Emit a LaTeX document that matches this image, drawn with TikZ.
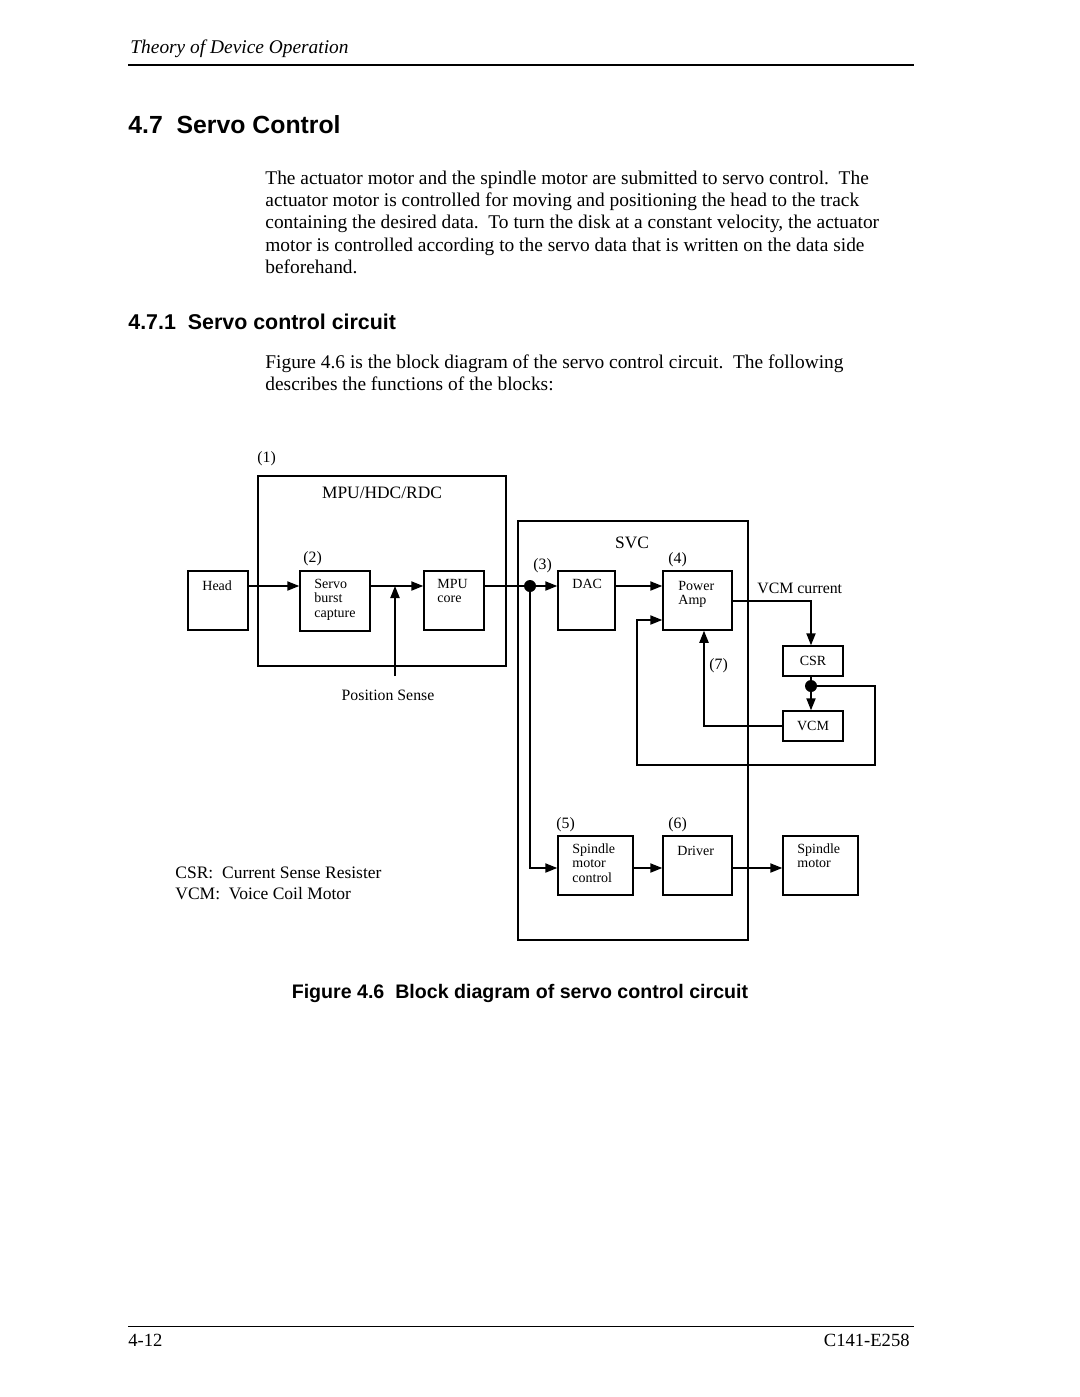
\documentclass[tikz,border=0pt]{standalone}
\usepackage{fontspec}
\setmainfont{Liberation Serif}
\newfontfamily\hsans{Liberation Sans}
\usetikzlibrary{arrows.meta}
\newcommand{\fsz}[1]{\fontsize{#1}{#1}\selectfont}
\begin{document}
\begin{tikzpicture}[x=0.5pt,y=-0.5pt,
  box/.style={draw,line width=0.75pt,inner sep=0pt},
  arr/.style={line width=0.75pt,-{Triangle[length=6pt,width=4.6pt]}},
  ln/.style={line width=0.75pt},
  dot/.style={circle,fill,inner sep=0pt,minimum size=6pt},
  body/.style={anchor=base west,inner sep=0pt,font=\fsz{9.7}},
  lab/.style={anchor=base west,inner sep=0pt,font=\fsz{7.9}},
  labc/.style={anchor=base,inner sep=0pt,font=\fsz{7.9}},
  sm/.style={anchor=base west,inner sep=0pt,font=\fsz{7}},
  smc/.style={anchor=center,inner sep=0pt,font=\fsz{7}},
  head/.style={anchor=base west,inner sep=0pt}]
\useasboundingbox[fill=white] (0,0) rectangle (1080,1397);
% page header
\node[head,font=\fsz{9.7}\itshape] (hdr) at (130,53) {Theory of Device Operation};
\coordinate (rl) at (128,65); \coordinate (rr) at (914,65);
\draw[line width=1pt] (rl) -- (rr);
\node[head,font=\hsans\bfseries\fsz{12.4}] (h1) at (128,133) {4.7\ \ Servo Control};
\node[body] (p1) at (265,184) {The actuator motor and the spindle motor are submitted to servo control.\ \ The};
\node[body] (p2) at (265,206) {actuator motor is controlled for moving and positioning the head to the track};
\node[body] (p3) at (265,228.5) {containing the desired data.\ \ To turn the disk at a constant velocity, the actuator};
\node[body] (p4) at (265,251) {motor is controlled according to the servo data that is written on the data side};
\node[body] (p5) at (265,273) {beforehand.};
\node[head,font=\hsans\bfseries\fsz{10.7}] (h2) at (128,329) {4.7.1\ \ Servo control circuit};
\node[body] (q1) at (265,368) {Figure 4.6 is the block diagram of the servo control circuit.\ \ The following};
\node[body] (q2) at (265,390) {describes the functions of the blocks:};
% boxes
\node[box,minimum width=124pt,minimum height=95pt] (mpu) at (382,571) {};
\node[box,minimum width=30pt,minimum height=29.5pt] (hd) at (218,600.5) {};
\node[box,minimum width=35pt,minimum height=30pt] (sbc) at (335,601) {};
\node[box,minimum width=30pt,minimum height=29.5pt] (core) at (454,600.5) {};
\node[box,minimum width=115pt,minimum height=209.5pt] (svc) at (633,730.5) {};
\node[box,minimum width=28.5pt,minimum height=29.5pt] (dac) at (586.5,600.5) {};
\node[box,minimum width=34.5pt,minimum height=29.5pt] (pamp) at (697.5,600.5) {};
\node[box,minimum width=30pt,minimum height=15pt] (csr) at (813,661) {};
\node[box,minimum width=30pt,minimum height=15pt] (vcm) at (813,726) {};
\node[box,minimum width=37.5pt,minimum height=29.5pt] (smctl) at (595.5,865.5) {};
\node[box,minimum width=34.5pt,minimum height=29.5pt] (drv) at (697.5,865.5) {};
\node[box,minimum width=37.5pt,minimum height=29.5pt] (spm) at (820.5,865.5) {};
% box texts
\node[sm] (t1) at (202,590) {Head};
\node[sm] (t2) at (314,588) {Servo};
\node[sm] (t3) at (314,602.5) {burst};
\node[sm] (t4) at (314,617) {capture};
\node[sm] (t5) at (437,588) {MPU};
\node[sm] (t6) at (437,602.5) {core};
\node[sm] (t7) at (572,588) {DAC};
\node[sm] (t8) at (678,590) {Power};
\node[sm] (t9) at (678,604.5) {Amp};
\node[smc] (t10) at (csr) {CSR};
\node[smc] (t11) at (vcm) {VCM};
\node[sm] (t12) at (572,853) {Spindle};
\node[sm] (t13) at (572,867.5) {motor};
\node[sm] (t14) at (572,882) {control};
\node[sm] (t15) at (677,855) {Driver};
\node[sm] (t16) at (797,853) {Spindle};
\node[sm] (t17) at (797,867.5) {motor};
% labels
\node[lab] (l1) at (257,462) {(1)};
\node[anchor=base,inner sep=0pt,font=\fsz{8.7}] (l2) at (382,498) {MPU/HDC/RDC};
\node[lab] (l3) at (303,562) {(2)};
\node[labc] (l4) at (388,700) {Position Sense};
\node[anchor=base,inner sep=0pt,font=\fsz{8.7}] (l5) at (632,548) {SVC};
\node[lab] (l6) at (533,569) {(3)};
\node[lab] (l7) at (668,563) {(4)};
\node[lab] (l8) at (757,593) {VCM current};
\node[lab] (l9) at (709,669) {(7)};
\node[lab] (l10) at (556,828) {(5)};
\node[lab] (l11) at (668,828) {(6)};
\node[anchor=base west,inner sep=0pt,font=\fsz{8.75}] (n1) at (175,878) {CSR:\ \ Current Sense Resister};
\node[anchor=base west,inner sep=0pt,font=\fsz{8.75}] (n2) at (175,899) {VCM:\ \ Voice Coil Motor};
% junctions and helper coordinates
\node[dot] (j1) at (530,586) {};
\node[dot] (j2) at (811,686) {};
\coordinate (yA) at (0,586);
\coordinate (yB) at (0,601);
\coordinate (yC) at (0,620);
\coordinate (yD) at (0,868);
\coordinate (xC) at (811,0);
\coordinate (ps) at (395,676);
\coordinate (c1) at (875,765);
\coordinate (c2) at (637,765);
% connectors
\draw[arr] (hd.east|-yA) -- (sbc.west|-yA);
\draw[arr] (sbc.east|-yA) -- (core.west|-yA);
\draw[arr] (ps) -- (ps|-yA);
\draw[ln] (core.east|-yA) -- (j1);
\draw[arr] (j1) -- (dac.west|-yA);
\draw[arr] (dac.east|-yA) -- (pamp.west|-yA);
\draw[arr] (pamp.east|-yB) -| (xC|-csr.north);
\draw[ln] (xC|-csr.south) -- (j2);
\draw[arr] (j2) -- (xC|-vcm.north);
\draw[arr] (vcm.west) -| ([xshift=3.25pt]pamp.south);
\draw[arr] (j2) -| (c1) -- (c2) |- (pamp.west|-yC);
\draw[arr] (j1) |- (smctl.west|-yD);
\draw[arr] (smctl.east|-yD) -- (drv.west|-yD);
\draw[arr] (drv.east|-yD) -- (spm.west|-yD);
% caption
\node[anchor=base,inner sep=0pt,font=\hsans\bfseries\fsz{9.8}] (cap) at (520,998) {Figure 4.6\ \ Block diagram of servo control circuit};
% footer
\coordinate (fl) at (128,1326); \coordinate (fr) at (914,1326);
\draw[line width=0.5pt] (fl) -- (fr);
\node[anchor=base west,inner sep=0pt,font=\fsz{9.3}] (f1) at (128,1346) {4-12};
\node[anchor=base east,inner sep=0pt,font=\fsz{9.3}] (f2) at (910,1346) {C141-E258};
\end{tikzpicture}
\end{document}
